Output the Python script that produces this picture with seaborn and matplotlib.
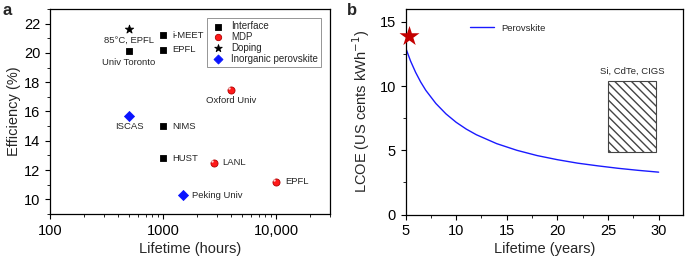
import matplotlib
matplotlib.use("Agg")
import matplotlib.pyplot as plt
from matplotlib.patches import Rectangle
from matplotlib.ticker import FixedLocator, FixedFormatter, MultipleLocator
import pandas as pd
import seaborn as sns

# Panel a: efficiency vs lifetime
iface_life = [500, 1000, 1000, 1000, 1000]
iface_eff = [20.1, 21.2, 20.2, 15.0, 12.8]
iface_lab = ["Univ Toronto", "i-MEET", "EPFL", "NIMS", "HUST"]
mdp_life = [4000, 2800, 10000]
mdp_eff = [17.5, 12.5, 11.2]
mdp_lab = ["Oxford Univ", "LANL", "EPFL"]
dop_life = [500]
dop_eff = [21.6]
dop_lab = ["85°C, EPFL"]
inorg_life = [500, 1500]
inorg_eff = [15.7, 10.3]
inorg_lab = ["ISCAS", "Peking Univ"]

# Panel b: LCOE vs lifetime
years = [5, 5.5, 6, 6.5, 7, 8, 9, 10, 11, 12, 14, 16, 18, 20, 22, 24, 26, 28, 30]
lcoe = [13.0, 11.94, 11.06, 10.31, 9.67, 8.64, 7.83, 7.18, 6.65, 6.21,
        5.52, 5.00, 4.59, 4.27, 4.00, 3.79, 3.60, 3.44, 3.30]
star_year, star_lcoe = 5.3, 13.9
box_years = [25, 29.7]
box_lcoe = [4.9, 10.4]

sns.set_style("ticks")
plt.rcParams["font.family"] = ["Liberation Sans", "DejaVu Sans"]
plt.rcParams.update({
    "xtick.direction": "out", "ytick.direction": "out",
    "xtick.major.size": 3.5, "ytick.major.size": 3.5,
    "xtick.minor.size": 2, "ytick.minor.size": 2,
    "xtick.minor.visible": False,
    "axes.linewidth": 0.9, "axes.edgecolor": "black",
    "xtick.color": "black", "ytick.color": "black",
    "xtick.labelsize": 10.5, "ytick.labelsize": 10.5,
})

fig = plt.figure(figsize=(6.85, 2.62), dpi=100)
ax_a = fig.add_axes([0.073, 0.183, 0.409, 0.783])
ax_b = fig.add_axes([0.592, 0.181, 0.405, 0.785])

groups = [
    ("Interface", iface_life, iface_eff, iface_lab, "s", "black", "black", 22),
    ("MDP", mdp_life, mdp_eff, mdp_lab, "o", "#ff1a1a", "#b00000", 26),
    ("Doping", dop_life, dop_eff, dop_lab, "*", "black", "black", 40),
    ("Inorganic perovskite", inorg_life, inorg_eff, inorg_lab, "D", "#0a14ff", "#0a14ff", 26),
]
below = {"85°C, EPFL", "Univ Toronto", "Oxford Univ", "ISCAS"}
for name, life, eff, labs, mk, fc, ec, s in groups:
    d = pd.DataFrame({"life": life, "eff": eff})
    sns.scatterplot(data=d, x="life", y="eff", marker=mk, color=fc, edgecolor=ec,
                    linewidth=0.6, s=s, label=name, ax=ax_a, zorder=3)
    if mk == "o":
        ax_a.scatter([v * 0.96 for v in life], [v + 0.1 for v in eff], s=3,
                     color="white", alpha=0.8, zorder=4, linewidths=0)
    for x, y, t in zip(life, eff, labs):
        if t in below:
            ax_a.annotate(t, (x, y), xytext=(0, -8), textcoords="offset points",
                          ha="center", va="center", fontsize=6.8)
        else:
            ax_a.annotate(t, (x, y), xytext=(6.5, 0), textcoords="offset points",
                          ha="left", va="center", fontsize=6.8)

ax_a.set_xscale("log")
ax_a.set_xlim(100, 30000)
ax_a.set_ylim(9, 23)
ax_a.xaxis.set_major_locator(FixedLocator([100, 1000, 10000]))
ax_a.xaxis.set_major_formatter(FixedFormatter(["100", "1000", "10,000"]))
ax_a.yaxis.set_major_locator(MultipleLocator(2))
ax_a.yaxis.set_minor_locator(MultipleLocator(1))
ax_a.tick_params(axis="x", which="minor", bottom=True, length=2)
ax_a.set_xlabel("Lifetime (hours)", fontsize=10.5, labelpad=3)
ax_a.set_ylabel("Efficiency (%)", fontsize=10.5, labelpad=2)
leg = ax_a.legend(loc="upper right", fontsize=7, frameon=True, fancybox=False,
                  borderaxespad=0.9, handletextpad=0.7, labelspacing=0.1,
                  borderpad=0.35, markerscale=0.9, handlelength=1.4)
leg.get_frame().set_edgecolor("#666666")
leg.get_frame().set_linewidth(0.6)

# Panel b
db = pd.DataFrame({"years": years, "lcoe": lcoe})
sns.lineplot(data=db, x="years", y="lcoe", color="#1a1aff", linewidth=1.0,
             label="Perovskite", ax=ax_b)
ax_b.scatter([star_year], [star_lcoe], marker="*", s=230, color="#c40000",
             zorder=5, clip_on=False, linewidths=0)
ax_b.add_patch(Rectangle((box_years[0], box_lcoe[0]), box_years[1] - box_years[0],
                         box_lcoe[1] - box_lcoe[0], facecolor="white",
                         edgecolor="#444444", hatch="\\\\\\\\", linewidth=0.8))
ax_b.text(sum(box_years) / 2, box_lcoe[1] + 0.4, "Si, CdTe, CIGS", ha="center",
          va="bottom", fontsize=6.8)
ax_b.set_xlim(5, 32.4)
ax_b.set_ylim(0, 16)
ax_b.xaxis.set_major_locator(MultipleLocator(5))
ax_b.xaxis.set_minor_locator(MultipleLocator(2.5))
ax_b.yaxis.set_major_locator(MultipleLocator(5))
ax_b.yaxis.set_minor_locator(MultipleLocator(2.5))
ax_b.tick_params(axis="both", which="minor", length=2)
ax_b.set_xlabel("Lifetime (years)", fontsize=10.5, labelpad=3)
ax_b.set_ylabel("LCOE (US cents kWh$^{-1}$)", fontsize=10.5, labelpad=5)
ax_b.legend(loc="upper left", bbox_to_anchor=(0.2, 0.97), frameon=False,
            fontsize=6.8, handlelength=2.6, handletextpad=0.8)

for ax in (ax_a, ax_b):
    for sp in ax.spines.values():
        sp.set_visible(True)

fig.text(0.004, 0.99, "a", fontsize=12, fontweight="bold", va="top")
fig.text(0.507, 0.99, "b", fontsize=12, fontweight="bold", va="top")

fig.savefig("out.png", dpi=100)
